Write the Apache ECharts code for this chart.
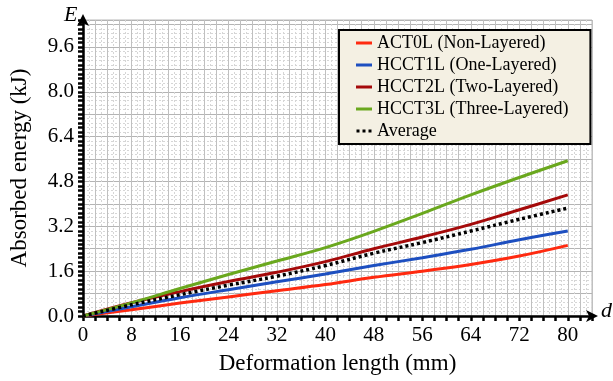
<!DOCTYPE html>
<html>
<head>
<meta charset="utf-8">
<script src="https://cdn.jsdelivr.net/npm/echarts@6/dist/echarts.min.js"></script>
<style>
  html, body { margin: 0; padding: 0; background: #fff; }
  #main { width: 613px; height: 381px; }
</style>
</head>
<body>
<div id="main"></div>
<script>
// deformation length (mm)
const xVals = [0, 8, 16, 24, 32, 40, 48, 56, 64, 72, 80];

// absorbed energy (kJ)
const act0l = [0, 0.22, 0.46, 0.68, 0.90, 1.12, 1.38, 1.60, 1.84, 2.14, 2.52];
const hcct1l = [0, 0.33, 0.65, 0.94, 1.22, 1.50, 1.80, 2.08, 2.38, 2.72, 3.03];
const hcct2l = [0, 0.47, 0.87, 1.23, 1.56, 1.94, 2.40, 2.82, 3.27, 3.79, 4.32];
const hcct3l = [0, 0.47, 0.98, 1.48, 1.96, 2.44, 3.02, 3.66, 4.32, 4.94, 5.54];
const average = [0, 0.40, 0.76, 1.10, 1.42, 1.80, 2.24, 2.62, 3.03, 3.45, 3.85];

const names = ['ACT0L (Non-Layered)', 'HCCT1L (One-Layered)', 'HCCT2L (Two-Layered)',
  'HCCT3L (Three-Layered)', 'Average'];
const colors = ['#ff2a10', '#1d4fc0', '#a50a0a', '#6aa81e', '#000000'];

const serif = '"Liberation Serif", "DejaVu Serif", serif';
const dotIcon = 'path://M0,0h3v3h-3z M6,0h3v3h-3z M12,0h3v3h-3z';

function pairs(arr) {
  return xVals.map((x, i) => [x, arr[i]]);
}

function makeSeries(name, arr, color, dotted) {
  return {
    name: name,
    type: 'line',
    data: pairs(arr),
    smooth: 0.4,
    symbol: 'none',
    z: dotted ? 5 : 3,
    lineStyle: { color: color, width: dotted ? 3.5 : 3, type: dotted ? [3, 3] : 'solid' },
    itemStyle: { color: color }
  };
}

const chart = echarts.init(document.getElementById('main'));
chart.setOption({
  backgroundColor: '#fff',
  animation: false,
  grid: { left: 83, right: 21, top: 20, bottom: 65, show: true, borderColor: '#b8b8b8', borderWidth: 1 },
  legend: {
    orient: 'vertical',
    left: 339,
    top: 30,
    padding: [4, 22, 4, 17],
    backgroundColor: '#f4f0e3',
    borderColor: '#000',
    borderWidth: 2,
    itemWidth: 16,
    itemHeight: 3,
    itemGap: 4,
    data: names.map((n, i) => ({ name: n, icon: i === 4 ? dotIcon : 'rect' })),
    textStyle: { fontFamily: serif, fontSize: 18, lineHeight: 18, color: '#000' }
  },
  xAxis: {
    type: 'value',
    min: 0,
    max: 84,
    interval: 2,
    name: 'Deformation length (mm)',
    nameLocation: 'middle',
    nameGap: 36,
    nameTextStyle: { fontFamily: serif, fontSize: 23, color: '#000' },
    axisLine: { lineStyle: { color: '#000', width: 2.5 }, symbol: ['none', 'arrow'], symbolSize: [9, 12], symbolOffset: [0, 6] },
    axisTick: { show: true, length: 5, inside: false, lineStyle: { color: '#000', width: 2.5 } },
    axisLabel: {
      fontFamily: serif, fontSize: 21, color: '#000', margin: 9,
      formatter: v => (v % 8 === 0 && v <= 80 ? String(v) : '')
    },
    splitLine: { show: true, lineStyle: { color: '#c0c0c0', width: 1 } },
    minorTick: { show: false, splitNumber: 2 },
    minorSplitLine: { show: true, lineStyle: { color: '#d6d6d6', width: 1, type: [2, 2] } }
  },
  yAxis: {
    type: 'value',
    min: 0,
    max: 10.56,
    interval: 0.8,
    name: 'Absorbed energy (kJ)',
    nameLocation: 'middle',
    nameGap: 52,
    nameRotate: 90,
    nameTextStyle: { fontFamily: serif, fontSize: 23, color: '#000' },
    axisLine: { show: true, lineStyle: { color: '#000', width: 2.5 }, symbol: ['none', 'arrow'], symbolSize: [9, 12], symbolOffset: [0, 6] },
    axisTick: { show: true, length: 5, lineStyle: { color: '#000', width: 2.5 } },
    minorTick: { show: true, splitNumber: 5, length: 5, lineStyle: { color: '#000', width: 2.5 } },
    axisLabel: {
      fontFamily: serif, fontSize: 21, color: '#000', margin: 9,
      formatter: v => {
        const k = v / 1.6;
        return Math.abs(k - Math.round(k)) < 1e-6 ? v.toFixed(1) : '';
      }
    },
    splitLine: { show: true, lineStyle: { color: '#b4b4b4', width: 1 } },
    minorSplitLine: { show: true, lineStyle: { color: '#d6d6d6', width: 1, type: [2, 2] } }
  },
  graphic: [
    { type: 'text', left: 64, top: 4, style: { text: 'E', font: 'italic 22px ' + serif, fill: '#000' } },
    { type: 'text', left: 601, top: 300, style: { text: 'd', font: 'italic 22px ' + serif, fill: '#000' } }
  ],
  series: [
    makeSeries(names[0], act0l, colors[0], false),
    makeSeries(names[1], hcct1l, colors[1], false),
    makeSeries(names[2], hcct2l, colors[2], false),
    makeSeries(names[3], hcct3l, colors[3], false),
    makeSeries(names[4], average, colors[4], true)
  ]
});
</script>
</body>
</html>
